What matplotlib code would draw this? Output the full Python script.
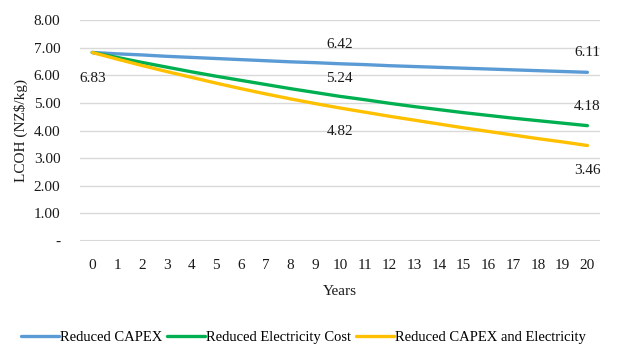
import matplotlib.pyplot as plt
import numpy as np

plt.rcParams['font.family'] = ['Liberation Serif', 'DejaVu Serif']

years = list(range(21))
capex = [6.83, 6.78, 6.74, 6.69, 6.65, 6.61, 6.57, 6.53, 6.49, 6.46, 6.42,
         6.39, 6.35, 6.32, 6.29, 6.26, 6.23, 6.20, 6.17, 6.14, 6.11]
elec = [6.83, 6.65, 6.47, 6.30, 6.13, 5.97, 5.82, 5.67, 5.52, 5.38, 5.24,
        5.12, 4.99, 4.87, 4.76, 4.65, 4.55, 4.45, 4.36, 4.27, 4.18]
both = [6.83, 6.59, 6.36, 6.14, 5.93, 5.72, 5.52, 5.33, 5.15, 4.98, 4.82,
        4.67, 4.52, 4.38, 4.24, 4.10, 3.97, 3.84, 3.71, 3.59, 3.46]
series_names = ['Reduced CAPEX', 'Reduced Electricity Cost', 'Reduced CAPEX and Electricity']
colors = ['#5b9bd5', '#00b050', '#ffc000']
yticks = [0, 1, 2, 3, 4, 5, 6, 7, 8]
ytick_labels = ['-', '1.00', '2.00', '3.00', '4.00', '5.00', '6.00', '7.00', '8.00']

fig = plt.figure(figsize=(6.19, 3.53), dpi=100)
ax = fig.add_axes([0.129, 0.317, 0.84, 0.626])

for vals, name, c in zip([capex, elec, both], series_names, colors):
    ax.plot(years, vals, color=c, linewidth=2.4, label=name,
            solid_capstyle='round', zorder=3)

# data labels (offsets in points)
labels = [
    (capex, 0, 0, -19),
    (capex, 10, 0, 14),
    (elec, 10, 0, 13),
    (both, 10, 0, -17),
    (capex, 20, 0, 14),
    (elec, 20, 0, 14),
    (both, 20, 0, -18),
]
for vals, i, dx, dy in labels:
    ax.annotate(f'{vals[i]:.2f}', (years[i], vals[i]), xytext=(dx, dy),
                textcoords='offset points', ha='center', va='center',
                fontsize=11, color='#1a1a1a')

ax.set_xlim(-0.5, 20.5)
ax.set_ylim(0, 8)
ax.set_xticks(years)
ax.set_yticks(yticks)
ax.set_yticklabels(ytick_labels)
ax.grid(axis='y', color='#d9d9d9', linewidth=1)
ax.axhline(0, color='#d9d9d9', linewidth=2.2, zorder=2)
for s in ax.spines.values():
    s.set_visible(False)
ax.tick_params(length=0, labelsize=11, colors='#1a1a1a')
ax.tick_params(axis='x', pad=13)
ax.tick_params(axis='y', pad=14)
ax.set_axisbelow(True)

ax.set_xlabel('Years', fontsize=11, color='#1a1a1a', labelpad=9)
ax.set_ylabel('LCOH (NZ$/kg)', fontsize=11, color='#1a1a1a', labelpad=4)

fig.legend(loc='lower center', bbox_to_anchor=(0.49, -0.012), ncol=3, frameon=False,
           fontsize=10.5, handlelength=2.6, handletextpad=0.1, columnspacing=0.3)

fig.savefig('out.png', dpi=100)
